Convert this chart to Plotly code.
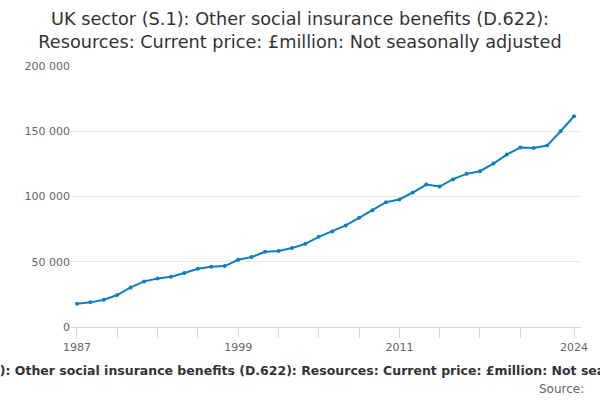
import plotly.graph_objects as go

years = list(range(1987, 2025))
values = [17860, 18880, 20920, 24490, 30360, 34950, 37240, 38520, 41330, 44640,
          46170, 46680, 51530, 53570, 57650, 58160, 60460, 63780, 69130, 73210,
          77800, 83670, 89540, 95660, 97700, 103060, 109180, 107650, 113270, 117350,
          119390, 125260, 132140, 137500, 137240, 139030, 150000, 161480]

tick_years = [1987, 1990, 1993, 1996, 1999, 2002, 2005, 2008, 2011, 2014, 2017, 2020, 2024]
labeled_years = [1987, 1999, 2011, 2024]
tick_text = [str(y) if y in labeled_years else "" for y in tick_years]
y_ticks = [0, 50000, 100000, 150000, 200000]

title_text = "UK sector (S.1): Other social insurance benefits (D.622):<br>Resources: Current price: £million: Not seasonally adjusted"
caption = "UK sector (S.1): Other social insurance benefits (D.622): Resources: Current price: £million: Not seasonally adjusted"

L, R, T, B = 71, 17, 66, 73
W, H = 600, 400
plot_h = H - T - B
plot_w = W - L - R

fig = go.Figure()
fig.add_trace(go.Scatter(
    x=years, y=values, mode="lines+markers",
    line=dict(color="#0f7fc4", width=2),
    marker=dict(color="#0f7fc4", size=4),
    hoverinfo="skip",
))

fig.update_layout(
    width=W, height=H,
    margin=dict(l=L, r=R, t=T, b=B),
    paper_bgcolor="white", plot_bgcolor="white",
    font=dict(family="DejaVu Sans", color="#666666", size=11),
    separators=". ",
    showlegend=False,
    title=dict(text=title_text, x=0.5, xanchor="center", y=1 - 25 / H, yanchor="top",
               font=dict(family="DejaVu Sans", size=17.7, color="#333333")),
    xaxis=dict(range=[1986.555, 2024.52], tickvals=tick_years, ticktext=tick_text,
               ticks="outside", ticklen=10, tickcolor="#ccd6eb", tickwidth=1,
               showline=True, linecolor="#ccd6eb", linewidth=1,
               showgrid=False, zeroline=False,
               tickfont=dict(size=11, color="#666666")),
    yaxis=dict(range=[0, 200000], tickvals=y_ticks, tickformat=",d",
               showgrid=True, gridcolor="#e6e6e6", gridwidth=1,
               zeroline=False, showline=False, ticks="", ticklen=0,
               tickfont=dict(size=11, color="#666666")),
    annotations=[
        dict(text="<b>" + caption + "</b>", x=(311 - L) / plot_w, xref="paper",
             y=-(370 - (H - B)) / plot_h, yref="paper",
             showarrow=False, xanchor="center", yanchor="middle",
             font=dict(size=12.5, color="#333333")),
        dict(text="Source:", x=(588 - L) / plot_w, xref="paper",
             y=-(389 - (H - B)) / plot_h, yref="paper",
             showarrow=False, xanchor="right", yanchor="middle",
             font=dict(size=12, color="#666666")),
    ],
)

fig.write_html("out.html", config={"displayModeBar": False})

with open("out.html", "r", encoding="utf-8") as f:
    html = f.read()
html = html.replace("<head>", "<head><style>html,body{margin:0;padding:0;overflow:hidden;}</style>", 1)
with open("out.html", "w", encoding="utf-8") as f:
    f.write(html)
